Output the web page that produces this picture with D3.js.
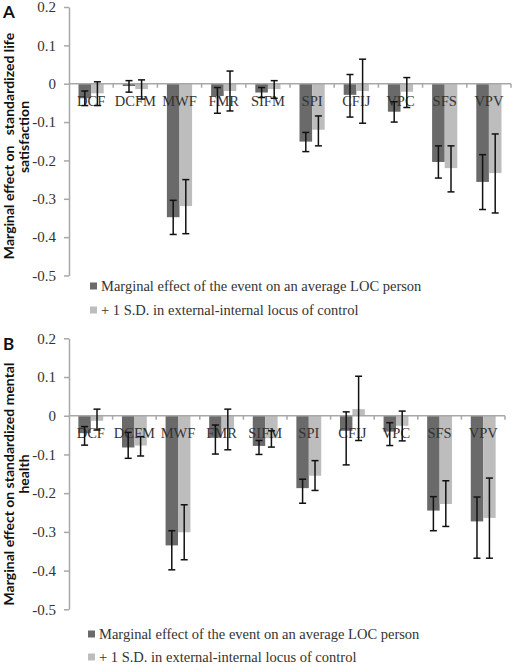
<!DOCTYPE html>
<html><head><meta charset="utf-8">
<script src="https://cdn.jsdelivr.net/npm/d3@7"></script>
<style>body{margin:0;background:#fff}svg{display:block}</style>
</head><body>
<script>
const categories = ["DCF","DCFM","MWF","FMR","SIFM","SPI","CFIJ","VPC","SFS","VPV"];
const seriesNames = ["Marginal effect of the event on an average LOC person","+ 1 S.D. in external-internal locus of control"];
const yTicks = [0.2,0.1,0,-0.1,-0.2,-0.3,-0.4,-0.5];
const yTickLabels = ["0.2","0.1","0","-0.1","-0.2","-0.3","-0.4","-0.5"];

// Panel A: life satisfaction
const lifeAvg    = [-0.038,-0.006,-0.348,-0.032,-0.023,-0.151,-0.029,-0.073,-0.204,-0.256];
const lifeAvgLo  = [-0.057,-0.022,-0.393,-0.077,-0.036,-0.177,-0.087,-0.100,-0.246,-0.328];
const lifeAvgHi  = [-0.019, 0.008,-0.304,-0.010,-0.010,-0.127, 0.024,-0.047,-0.162,-0.185];
const lifeSD     = [-0.025,-0.014,-0.319,-0.019,-0.014,-0.120,-0.019,-0.021,-0.220,-0.233];
const lifeSDLo   = [-0.057,-0.040,-0.391,-0.071,-0.038,-0.162,-0.103,-0.062,-0.282,-0.337];
const lifeSDHi   = [ 0.005, 0.010,-0.250, 0.033, 0.008,-0.084, 0.064, 0.016,-0.162,-0.131];

// Panel B: mental health
const mentAvg    = [-0.045,-0.082,-0.335,-0.057,-0.078,-0.187,-0.039,-0.041,-0.245,-0.273];
const mentAvgLo  = [-0.076,-0.110,-0.398,-0.099,-0.100,-0.226,-0.127,-0.077,-0.297,-0.368];
const mentAvgHi  = [-0.028,-0.043,-0.297,-0.024,-0.064,-0.164, 0.010,-0.018,-0.209,-0.210];
const mentSD     = [-0.013,-0.077,-0.301,-0.035,-0.058,-0.155, 0.017,-0.026,-0.228,-0.264];
const mentSDLo   = [-0.037,-0.104,-0.372,-0.088,-0.081,-0.193,-0.064,-0.065,-0.286,-0.368];
const mentSDHi   = [ 0.017,-0.054,-0.230, 0.017,-0.039,-0.116, 0.102, 0.012,-0.168,-0.161];

const colors = ["#6a6a6a","#bdbdbd"];
const axisColor = "#a8a8a8";
const serif = "'Liberation Serif', 'DejaVu Serif', serif";
const sans = "Lato, 'Liberation Sans', sans-serif";

const W = 513, H = 666;
const svg = d3.select("body").append("svg").attr("width", W).attr("height", H);

function panel(cfg){
  const g = svg.append("g");
  const y = d3.scaleLinear().domain([-0.5,0.2]).range([cfg.yBottom, cfg.yTop]);
  const x = d3.scaleBand().domain(categories).range([cfg.x0, cfg.x1]).paddingInner(0.43).paddingOuter(0.215);
  const xs = d3.scaleBand().domain([0,1]).range([0, x.bandwidth()]);
  const step = (cfg.x1 - cfg.x0) / categories.length;

  // y axis
  const yAxis = d3.axisLeft(y).tickValues(yTicks).tickFormat((d,i)=>yTickLabels[i]).tickSize(5).tickSizeOuter(0);
  const ya = g.append("g").attr("transform", `translate(${cfg.x0},0)`).call(yAxis);
  ya.select(".domain").attr("stroke", axisColor).attr("stroke-width", 1.5);
  ya.selectAll(".tick line").attr("stroke", axisColor).attr("stroke-width", 1.5);
  ya.selectAll(".tick text").attr("font-family", serif).attr("font-size", 15).attr("fill", "#333").attr("x", -13);

  // bars
  const series = [
    {vals: cfg.avg, lo: cfg.avgLo, hi: cfg.avgHi},
    {vals: cfg.sd, lo: cfg.sdLo, hi: cfg.sdHi}
  ];
  series.forEach((s, si) => {
    g.append("g").selectAll("rect").data(categories).join("rect")
      .attr("x", (c) => x(c) + xs(si))
      .attr("width", xs.bandwidth())
      .attr("y", (c,i) => y(Math.max(0, s.vals[i])))
      .attr("height", (c,i) => Math.abs(y(s.vals[i]) - y(0)))
      .attr("fill", colors[si]);
  });

  // x axis line with ticks at band boundaries
  g.append("line").attr("x1", cfg.x0).attr("x2", cfg.x1).attr("y1", y(0)).attr("y2", y(0))
    .attr("stroke", axisColor).attr("stroke-width", 1.5);
  const bounds = d3.range(1, categories.length + 1).map(i => cfg.x0 + i * step);
  g.append("g").selectAll("line").data(bounds).join("line")
    .attr("x1", d => d).attr("x2", d => d).attr("y1", y(0)).attr("y2", y(0) + 4)
    .attr("stroke", axisColor).attr("stroke-width", 1.5);

  // category labels
  g.append("g").selectAll("text").data(categories).join("text")
    .attr("x", c => x(c) + x.bandwidth()/2)
    .attr("y", y(0) + 22)
    .attr("text-anchor", "middle")
    .attr("font-family", serif).attr("font-size", 14.5).attr("fill", "#333")
    .text(c => c);

  // error bars
  series.forEach((s, si) => {
    const eg = g.append("g").attr("stroke", "#111").attr("stroke-width", 1.5).attr("fill", "none");
    categories.forEach((c, i) => {
      const cx = x(c) + xs(si) + xs.bandwidth()/2;
      eg.append("line").attr("x1", cx).attr("x2", cx).attr("y1", y(s.hi[i])).attr("y2", y(s.lo[i]));
      eg.append("line").attr("x1", cx-3.5).attr("x2", cx+3.5).attr("y1", y(s.hi[i])).attr("y2", y(s.hi[i]));
      eg.append("line").attr("x1", cx-3.5).attr("x2", cx+3.5).attr("y1", y(s.lo[i])).attr("y2", y(s.lo[i]));
    });
  });

  // y title
  g.append("text").attr("transform", `translate(13.5,${cfg.title1Y}) rotate(-90)`)
    .attr("text-anchor", "middle").attr("font-family", sans).attr("font-weight", "bold")
    .attr("font-size", 14).attr("fill", "#111")
    .style("white-space", "pre").text(cfg.title1);
  g.append("text").attr("transform", `translate(29,${cfg.title2Y}) rotate(-90)`)
    .attr("text-anchor", "middle").attr("font-family", sans).attr("font-weight", "bold")
    .attr("font-size", 14).attr("fill", "#111").text(cfg.title2);

  // panel letter
  g.append("text").attr("x", 3).attr("y", cfg.letterY).attr("font-family", sans)
    .attr("font-weight", "bold").attr("font-size", 17).attr("fill", "#111").text(cfg.letter);

  // legend
  seriesNames.forEach((n, i) => {
    const ly = cfg.legendY + i * cfg.legendGap;
    g.append("rect").attr("x", cfg.legendX).attr("y", ly - 3.5).attr("width", 7).attr("height", 7).attr("fill", colors[i]);
    g.append("text").attr("x", cfg.legendX + 11).attr("y", ly + 5).attr("font-family", serif)
      .attr("font-size", 14.5).attr("fill", "#333").text(n);
  });
}

panel({letter:"A", letterY:18, x0:69, x1:511, yTop:7, yBottom:275.5, avg:lifeAvg, avgLo:lifeAvgLo, avgHi:lifeAvgHi,
  sd:lifeSD, sdLo:lifeSDLo, sdHi:lifeSDHi, title1:"Marginal effect on   standardized life", title2:"satisfaction",
  title1Y:146, title2Y:137, legendX:90, legendY:286, legendGap:24});
panel({letter:"B", letterY:350, x0:69, x1:505, yTop:338.3, yBottom:609.3, avg:mentAvg, avgLo:mentAvgLo, avgHi:mentAvgHi,
  sd:mentSD, sdLo:mentSDLo, sdHi:mentSDHi, title1:"Marginal effect on standardized mental", title2:"health",
  title1Y:484, title2Y:474, legendX:88, legendY:634, legendGap:23});
</script>
</body></html>
